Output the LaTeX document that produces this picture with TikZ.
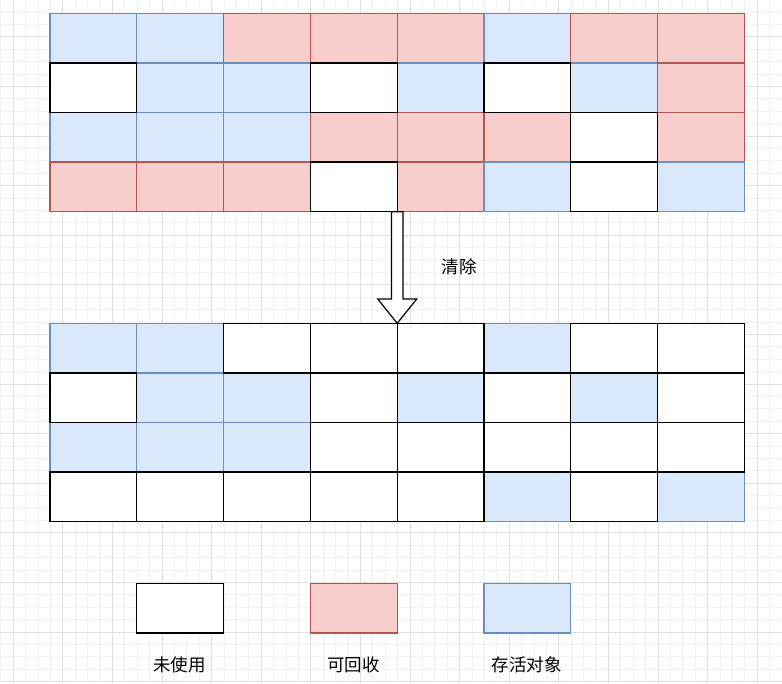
\documentclass[tikz,border=0pt]{standalone}
\usepackage{fontspec}
\newfontfamily\cjk{Noto Sans CJK SC}
\definecolor{liveFill}{HTML}{DAE8FC}
\definecolor{liveLine}{HTML}{6C8EBF}
\definecolor{deadFill}{HTML}{F8CECC}
\definecolor{deadLine}{HTML}{B85450}
\definecolor{gridMinor}{HTML}{F2F2F2}
\definecolor{gridMajor}{HTML}{E0E0E0}
\begin{document}
\begin{tikzpicture}[x=1pt, y=-1pt,
  cell/.style={rectangle, draw, line width=1.24pt, minimum width=86.8pt, minimum height=49.6pt, inner sep=0pt, outer sep=0pt},
  live/.style={cell, fill=liveFill, draw=liveLine},
  dead/.style={cell, fill=deadFill, draw=deadLine},
  free/.style={cell, fill=white, draw=black},
  tag/.style={font=\cjk\fontsize{17.5}{20}\selectfont, inner sep=0pt}]
\useasboundingbox (0,0) rectangle (782,683);
\fill[white] (0,0) rectangle (782,683);
% background grid
\foreach \i in {0,...,62} \draw[gridMinor, line width=1pt] (0.9+12.4*\i,0) -- ++(0,683);
\foreach \i in {0,...,54} \draw[gridMinor, line width=1pt] (0,12+12.4*\i) -- ++(782,0);
\foreach \i in {0,...,15} \draw[gridMajor, line width=1pt] (13.3+49.6*\i,0) -- ++(0,683);
\foreach \i in {0,...,13} \draw[gridMajor, line width=1pt] (0,36.8+49.6*\i) -- ++(782,0);
% heap before
\node[live] (t11) at (93.4,38.1){};
\node[live] (t12) at (180.2,38.1){};
\node[dead] (t13) at (267,38.1){};
\node[dead] (t14) at (353.8,38.1){};
\node[dead] (t15) at (440.6,38.1){};
\node[live] (t16) at (527.4,38.1){};
\node[dead] (t17) at (614.2,38.1){};
\node[dead] (t18) at (701,38.1){};
\node[live] (t22) at (180.2,87.7){};
\node[live] (t23) at (267,87.7){};
\node[live] (t25) at (440.6,87.7){};
\node[live] (t27) at (614.2,87.7){};
\node[dead] (t28) at (701,87.7){};
\node[live] (t31) at (93.4,137.3){};
\node[live] (t32) at (180.2,137.3){};
\node[live] (t33) at (267,137.3){};
\node[dead] (t34) at (353.8,137.3){};
\node[dead] (t35) at (440.6,137.3){};
\node[dead] (t36) at (527.4,137.3){};
\node[dead] (t38) at (701,137.3){};
\node[dead] (t41) at (93.4,186.9){};
\node[dead] (t42) at (180.2,186.9){};
\node[dead] (t43) at (267,186.9){};
\node[dead] (t45) at (440.6,186.9){};
\node[live] (t46) at (527.4,186.9){};
\node[live] (t48) at (701,186.9){};
\node[free] (t21) at (93.4,87.7){};
\node[free] (t24) at (353.8,87.7){};
\node[free] (t26) at (527.4,87.7){};
\node[free] (t37) at (614.2,137.3){};
\node[free] (t44) at (353.8,186.9){};
\node[free] (t47) at (614.2,186.9){};
% heap after
\node[live] (b11) at (93.4,348.1){};
\node[live] (b12) at (180.2,348.1){};
\node[live] (b16) at (527.4,348.1){};
\node[live] (b22) at (180.2,397.7){};
\node[live] (b23) at (267,397.7){};
\node[live] (b25) at (440.6,397.7){};
\node[live] (b27) at (614.2,397.7){};
\node[live] (b31) at (93.4,447.3){};
\node[live] (b32) at (180.2,447.3){};
\node[live] (b33) at (267,447.3){};
\node[live] (b46) at (527.4,496.9){};
\node[live] (b48) at (701,496.9){};
\node[free] (b13) at (267,348.1){};
\node[free] (b14) at (353.8,348.1){};
\node[free] (b15) at (440.6,348.1){};
\node[free] (b17) at (614.2,348.1){};
\node[free] (b18) at (701,348.1){};
\node[free] (b21) at (93.4,397.7){};
\node[free] (b24) at (353.8,397.7){};
\node[free] (b26) at (527.4,397.7){};
\node[free] (b28) at (701,397.7){};
\node[free] (b34) at (353.8,447.3){};
\node[free] (b35) at (440.6,447.3){};
\node[free] (b36) at (527.4,447.3){};
\node[free] (b37) at (614.2,447.3){};
\node[free] (b38) at (701,447.3){};
\node[free] (b41) at (93.4,496.9){};
\node[free] (b42) at (180.2,496.9){};
\node[free] (b43) at (267,496.9){};
\node[free] (b44) at (353.8,496.9){};
\node[free] (b45) at (440.6,496.9){};
\node[free] (b47) at (614.2,496.9){};
% sweep arrow
\draw[line width=1.24pt, fill=white, line join=miter] (t44.south east) ++(-5.8,0) -- ++(0,87.3) -- ++(-13.7,0)
  -- (b14.north east) -- ++(19.5,-24.3) -- ++(-13.7,0) -- ++(0,-87.3) -- cycle;
\node[tag] (sweep) at (459,267){清除};
% legend
\node[free] (leg1) at (180.2,608.2){};
\node[dead] (leg2) at (353.8,608.2){};
\node[live] (leg3) at (527.4,608.2){};
\node[tag] (lab1) at (179.5,665){未使用};
\node[tag] (lab2) at (353.5,665){可回收};
\node[tag] (lab3) at (526.8,665){存活对象};
\end{tikzpicture}
\end{document}
